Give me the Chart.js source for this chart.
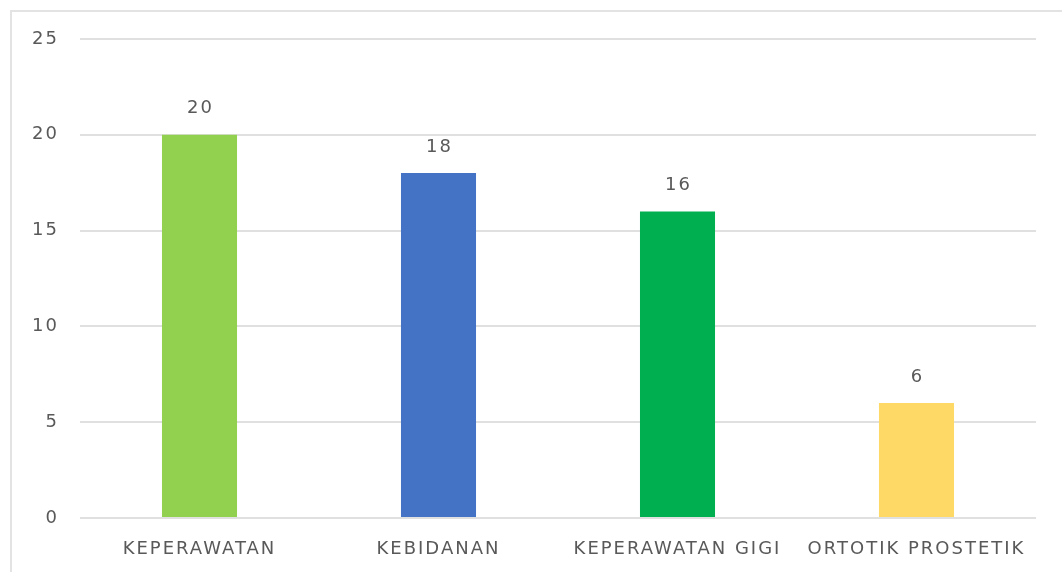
<!DOCTYPE html>
<html>
<head>
<meta charset="utf-8">
<script src="https://cdn.jsdelivr.net/npm/chart.js@4"></script>
<style>
  html, body { margin: 0; padding: 0; background: #fff; overflow: hidden; }
  canvas { display: block; }
</style>
</head>
<body>
<canvas id="c" width="1062" height="572"></canvas>
<script>
const categories = ['KEPERAWATAN', 'KEBIDANAN', 'KEPERAWATAN GIGI', 'ORTOTIK PROSTETIK'];
const counts = [20, 18, 16, 6];
const barColors = ['#92D050', '#4472C4', '#00B050', '#FFD966'];
const yTicks = [0, 5, 10, 15, 20, 25];

const TEXT = '#595959';
const FONT = { family: 'DejaVu Sans', size: 18 };
const SPACING = '2px';

// slightly widened letter spacing for all canvas text, plus the outer frame edges
const spacing = {
  id: 'spacing',
  beforeLayout(chart) { chart.ctx.letterSpacing = SPACING; },
  beforeDraw(chart) {
    const ctx = chart.ctx;
    ctx.letterSpacing = SPACING;
    ctx.save();
    ctx.strokeStyle = '#e3e3e3';
    ctx.lineWidth = 2;
    ctx.beginPath();
    ctx.moveTo(11, chart.height);
    ctx.lineTo(11, 11);
    ctx.lineTo(chart.width, 11);
    ctx.stroke();
    ctx.restore();
  }
};

// value labels above each bar
const valueLabels = {
  id: 'valueLabels',
  afterDatasetsDraw(chart) {
    const ctx = chart.ctx;
    const meta = chart.getDatasetMeta(0);
    ctx.save();
    ctx.letterSpacing = SPACING;
    ctx.font = FONT.size + 'px "' + FONT.family + '"';
    ctx.fillStyle = TEXT;
    ctx.textAlign = 'center';
    ctx.textBaseline = 'middle';
    meta.data.forEach((bar, i) => {
      ctx.fillText(String(counts[i]), bar.x + 1, bar.y - 26);
    });
    ctx.restore();
  }
};

new Chart(document.getElementById('c'), {
  type: 'bar',
  data: {
    labels: categories,
    datasets: [{
      data: counts,
      backgroundColor: barColors,
      borderWidth: 0,
      barPercentage: 0.314,
      categoryPercentage: 1
    }]
  },
  options: {
    responsive: false,
    animation: false,
    devicePixelRatio: 1,
    layout: { padding: { top: 39, right: 26, left: 0, bottom: 12 } },
    plugins: { legend: { display: false }, tooltip: { enabled: false } },
    scales: {
      x: {
        afterFit(axis) { axis.height = 42; },
        grid: { display: false, drawTicks: false },
        border: { display: false },
        ticks: { color: TEXT, font: FONT, padding: 21, maxRotation: 0, autoSkip: false }
      },
      y: {
        min: 0,
        max: 25,
        afterBuildTicks(axis) { axis.ticks = yTicks.map(v => ({ value: v })); },
        afterFit(axis) { axis.width = 80; },
        grid: { color: '#e0e0e0', lineWidth: 2, drawTicks: false },
        border: { display: false },
        ticks: { color: TEXT, font: FONT, padding: 21 }
      }
    }
  },
  plugins: [spacing, valueLabels]
});
</script>
</body>
</html>
